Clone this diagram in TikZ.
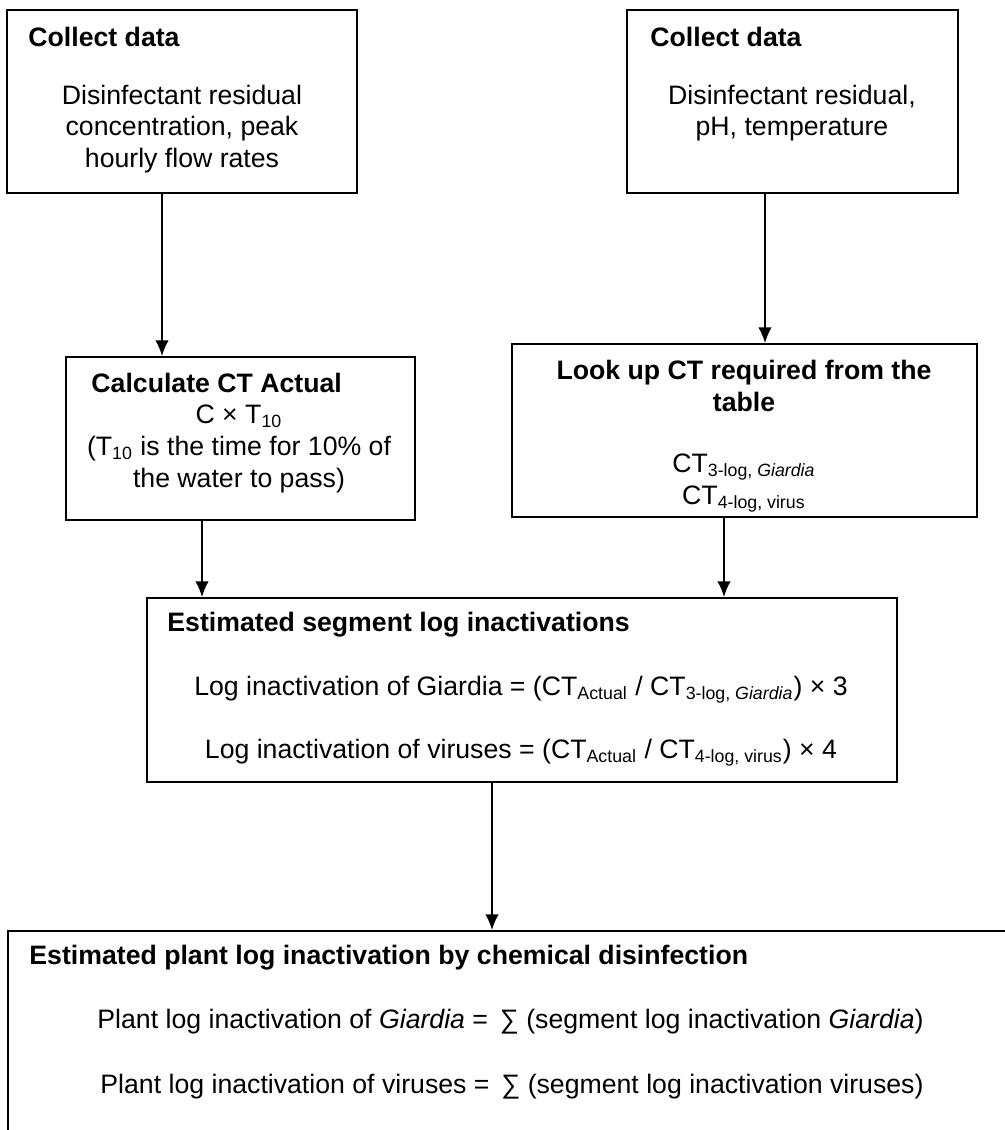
\documentclass[tikz,border=0pt]{standalone}
\usepackage{fontspec}
\setmainfont{Liberation Sans}
\usetikzlibrary{arrows.meta,fit,calc}
\tikzset{
  box/.style={draw,line width=0.9pt,inner sep=0pt},
  title/.style={font=\fontsize{12}{14.2}\selectfont\bfseries,anchor=west,inner sep=0pt},
  body/.style={align=center,inner sep=0pt},
  arr/.style={line width=0.7pt,-{Latex[length=7pt,width=6pt]}}
}
\begin{document}
\begin{tikzpicture}[x=4.5pt,y=-4.5pt,every node/.style={font=\fontsize{12}{14.2}\selectfont}]
\useasboundingbox(0,0)rectangle(100.5,113);
\clip(0,0)rectangle(100.5,113);
%boxes
\node[box,fit={(0.7,1.0)(35.7,19.3)}](dataA){};
\node[box,fit={(62.7,1.0)(95.8,19.3)}](dataB){};
\node[box,fit={(6.6,35.7)(41.5,52.0)}](actual){};
\node[box,fit={(51.2,34.4)(97.7,51.7)}](lookup){};
\node[box,fit={(14.7,59.8)(89.7,78.2)}](segment){};
\node[box,fit={(0.8,93.1)(106,120)}](plant){};
%collect data (left)
\node[title](dataAt)at(2.8,3.7){Collect data};
\node[body](dataAb)at(18.2,12.9){Disinfectant residual\\concentration, peak\\hourly flow rates};
%collect data (right)
\node[title](dataBt)at(65.0,3.7){Collect data};
\node[body](dataBb)at(79.2,11.3){Disinfectant residual,\\pH, temperature};
%CT actual
\node[title](actualt)at(9.1,38.3){Calculate CT Actual};
\node[body](actualb)at(23.9,44.9){C × T\textsubscript{10}\\(T\textsubscript{10} is the time for 10\% of\\the water to pass)};
%CT required
\node[body,font=\fontsize{12}{14.2}\selectfont\bfseries](lookupt)at(74.4,38.6){Look up CT required from the\\table};
\node[body](lookupb)at(74.4,48.3){CT\textsubscript{3-log, \textit{Giardia}}\\CT\textsubscript{4-log, virus}};
%segment log inactivations
\node[title](segmentt)at(16.7,62.5){Estimated segment log inactivations};
\node[body](segmentA)at(52.1,69.0){Log inactivation of Giardia = (CT\textsubscript{Actual} / CT\textsubscript{3-log, \textit{Giardia}}) × 3};
\node[body](segmentB)at(52.1,75.3){Log inactivation of viruses = (CT\textsubscript{Actual} / CT\textsubscript{4-log, virus}) × 4};
%plant log inactivation
\node[title](plantt)at(2.9,95.8){Estimated plant log inactivation by chemical disinfection};
\node[body](plantA)at(51.05,102.2){Plant log inactivation of \textit{Giardia} = \,∑ (segment log inactivation \textit{Giardia})};
\node[body](plantB)at(51.2,108.7){Plant log inactivation of viruses = \,∑ (segment log inactivation viruses)};
%arrows
\draw[arr](dataA.south -| 16.2,0)--(actual.north -| 16.2,0);
\draw[arr](dataB.south -| 76.5,0)--(lookup.north -| 76.5,0);
\draw[arr](actual.south -| 20.2,0)--(segment.north -| 20.2,0);
\draw[arr](lookup.south -| 72.4,0)--(segment.north -| 72.4,0);
\draw[arr](segment.south -| 49.2,0)--(plant.north -| 49.2,0);
\end{tikzpicture}
\end{document}
